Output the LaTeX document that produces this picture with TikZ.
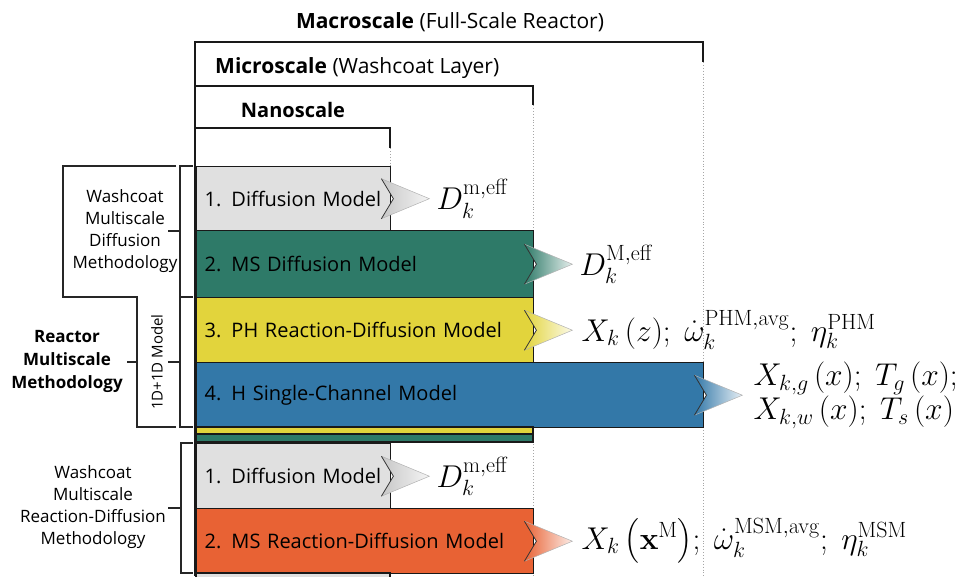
\RequirePackage{fix-cm}
\documentclass[tikz,border=0pt]{standalone}
\usepackage[no-math]{fontspec}
\setmainfont{Open Sans}
\usepackage{amsmath}
\usetikzlibrary{calc}

\definecolor{boxgray}{RGB}{224,224,224}
\definecolor{boxteal}{RGB}{46,122,104}
\definecolor{boxyellow}{RGB}{226,212,60}
\definecolor{boxblue}{RGB}{51,120,168}
\definecolor{boxorange}{RGB}{232,98,52}
\definecolor{edge}{RGB}{25,25,25}

% chevron-shaped output arrow leaving the right side of a model box
% #1 box name, #2 base colour, #3 tip colour
\newcommand\outarrow[3]{%
  \path[left color=#2, right color=#3]
    ($(#1.east)+(-10,-20)$) -- ($(#1.east)+(2,0)$) -- ($(#1.east)+(-10,20)$)
    -- ($(#1.east)+(38,0)$) -- cycle;
  \draw[black!30, line width=0.5pt]
    ($(#1.east)+(-10,-20)$) -- ($(#1.east)+(38,0)$) -- ($(#1.east)+(-10,20)$);
  \draw[black!80, line width=0.8pt]
    ($(#1.east)+(-10,-20)$) -- ($(#1.east)+(2,0)$) -- ($(#1.east)+(-10,20)$);
}

\tikzset{
  model/.style={draw=edge, line width=1.4pt, anchor=north west, inner xsep=8pt,
    inner ysep=0pt, align=left, font=\fontsize{20}{22}\selectfont},
  strip/.style={draw=edge, line width=1.2pt},
  scaleline/.style={line width=1.8pt, draw=black!90},
  bracket/.style={line width=1.4pt, draw=black!85},
  guide/.style={draw=black!35, dotted, line width=0.9pt},
  outlabel/.style={anchor=west, inner sep=0pt, font=\fontsize{31.5}{32}\selectfont},
  side/.style={align=center, inner sep=0pt, font=\fontsize{17}{22}\selectfont},
  head/.style={inner sep=0pt, font=\fontsize{21}{22}\selectfont},
}

\begin{document}
\begin{tikzpicture}[x=1pt, y=-1pt]
\useasboundingbox (0,0) rectangle (958,576);

% scale headings and their brackets
\node[head] (macro) at (450,22) {\textbf{Macroscale} (Full-Scale Reactor)};
\node[head, anchor=west] (micro) at (215,68) {\textbf{Microscale} (Washcoat Layer)};
\node[head, font=\fontsize{20}{22}\selectfont] (nano)  at (293,110) {\textbf{Nanoscale}};

\draw[guide] (703,62) -- (703,576);
\draw[guide] (533,105) -- (533,576);
\draw[guide] (390,148) -- (390,576);

\draw[scaleline] (195,576) -- (195,42) -- (703,42) -- (703,62);
\draw[scaleline] (195,86) -- (533,86) -- (533,105);
\draw[scaleline] (195,128) -- (390,128) -- (390,148);

% model boxes
\node[model, fill=boxgray, text width=178pt, minimum height=64pt] (b1) at (196,166) {1. Diffusion Model};
\node[model, fill=boxteal, text width=321pt, minimum height=67pt] (b2) at (196,230) {2. MS Diffusion Model};
\node[model, fill=boxyellow, text width=321pt, minimum height=65pt] (b3) at (196,297) {3. PH Reaction-Diffusion Model};
\node[model, fill=boxblue, text width=491pt, minimum height=65pt] (b4) at (196,362) {4. H Single-Channel Model};
\draw[strip, fill=boxyellow] (196,427) rectangle (533,434);
\draw[strip, fill=boxteal] (196,434) rectangle (533,442);
\node[model, fill=boxgray, text width=178pt, minimum height=65pt] (b5) at (196,443) {1. Diffusion Model};
\node[model, fill=boxorange, text width=321pt, minimum height=65pt] (b6) at (196,508) {2. MS Reaction-Diffusion Model};
\draw[strip, fill=boxgray] (196,573) rectangle (390,600);

% outputs of each model
\outarrow{b1}{black!22}{black!4}
\outarrow{b2}{boxteal}{boxteal!12}
\outarrow{b3}{boxyellow}{boxyellow!12}
\outarrow{b4}{boxblue}{boxblue!12}
\outarrow{b5}{black!22}{black!4}
\outarrow{b6}{boxorange}{boxorange!12}

\node[outlabel] (o1) at ($(b1.east)+(45,0)$) {$D_k^{\mathrm{m,eff}}$};
\node[outlabel] (o2) at ($(b2.east)+(45,0)$) {$D_k^{\mathrm{M,eff}}$};
\node[outlabel] (o3) at ($(b3.east)+(47,0)$)
  {$X_k\,(z);\ \dot{\omega}_k^{\mathrm{PHM,avg}};\ \eta_k^{\mathrm{PHM}}$};
\node[outlabel, align=left] (o4) at ($(b4.east)+(49,0)$)
  {$X_{k,g}\,(x);\ T_g\,(x);$\\$X_{k,w}\,(x);\ T_s\,(x)$};
\node[outlabel] (o5) at ($(b5.east)+(45,0)$) {$D_k^{\mathrm{m,eff}}$};
\node[outlabel] (o6) at ($(b6.east)+(47,0)$)
  {$X_k\,{\left(\mathbf{x}^{\mathrm{M}}\right)};\ \dot{\omega}_k^{\mathrm{MSM,avg}};\ \eta_k^{\mathrm{MSM}}$};

% methodology brackets on the left
\draw[bracket] (176,166) -- (63,166) -- (63,297) -- (137,297) -- (137,427) -- (176,427);
\draw[bracket] (127,362) -- (137,362);
\draw[bracket] (193,166) -- (180,166) -- (180,297) -- (193,297);
\draw[bracket] (168,231) -- (180,231);
\draw[bracket] (193,297) -- (180,297) -- (180,427) -- (193,427);
\draw[bracket] (168,362) -- (180,362);
\draw[bracket] (193,443) -- (181,443) -- (181,573) -- (193,573);
\draw[bracket] (168,508) -- (181,508);

\node[side] (wmdm) at (125,231) {Washcoat\\Multiscale\\Diffusion\\Methodology};
\node[side, font=\bfseries\fontsize{17}{23}\selectfont] (rmm) at (67,361) {Reactor\\Multiscale\\Methodology};
\node[side, rotate=90, font=\fontsize{15}{18}\selectfont] (oned) at (157,362) {1D+1D Model};
\node[side] (wmrdm) at (93,507) {Washcoat\\Multiscale\\Reaction-Diffusion\\Methodology};
\end{tikzpicture}
\end{document}
